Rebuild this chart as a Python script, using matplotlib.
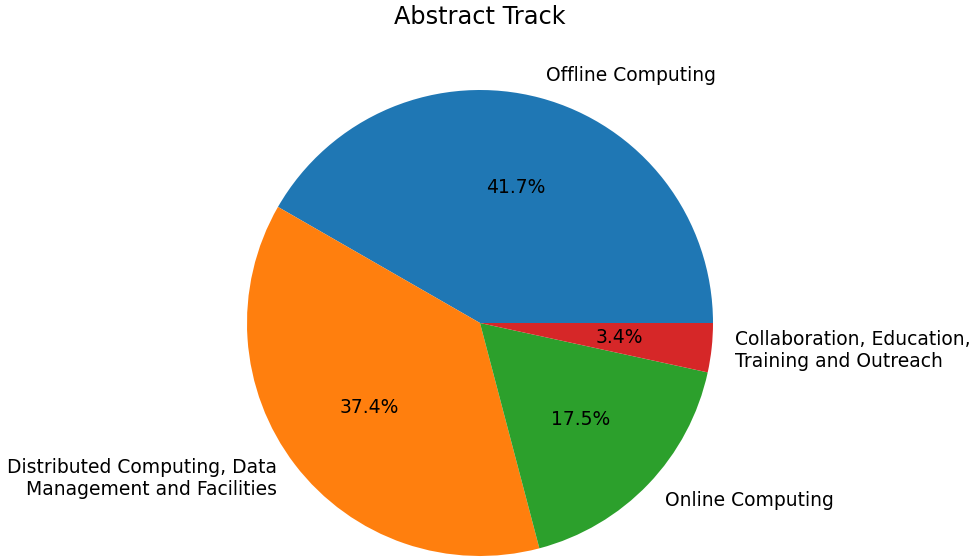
import matplotlib
matplotlib.use("Agg")
import matplotlib.pyplot as plt

tracks = ["Offline Computing",
          "Distributed Computing, Data\nManagement and Facilities",
          "Online Computing",
          "Collaboration, Education,\nTraining and Outreach"]
shares = [41.7, 37.4, 17.5, 3.4]

fig = plt.figure(figsize=(9.78, 5.59), dpi=100)
ax = fig.add_axes([0, 0, 1, 1])
ax.pie(shares, labels=tracks, autopct="%1.1f%%", textprops={"fontsize": 13.5})

# place the pie: centre at (480, 323) px, radius 233 px
r = 233.0
ax.set_xlim(-480 / r, (978 - 480) / r)
ax.set_ylim(-(559 - 323) / r, 323 / r)
ax.set_aspect("auto")
ax.axis("off")

fig.text(480 / 978, 1 - 17 / 559, "Abstract Track", fontsize=17.3,
         ha="center", va="center")

fig.savefig("out.png", dpi=100)
